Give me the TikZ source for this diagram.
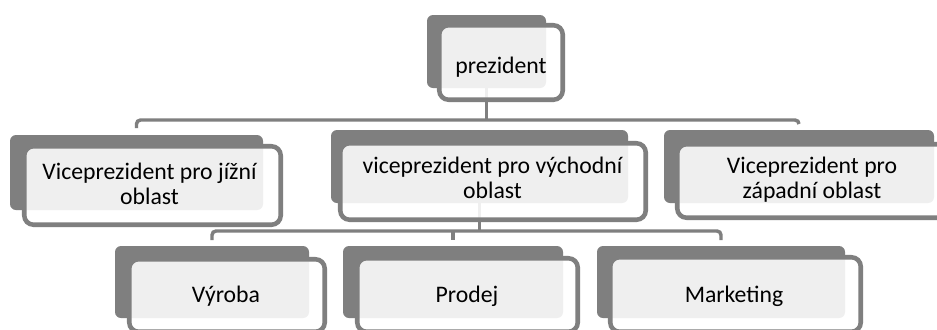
\documentclass[tikz,border=0pt]{standalone}
\usepackage{fontspec}
\setmainfont{Carlito}
\definecolor{boxgray}{RGB}{127,127,127}
\tikzset{
  back/.style={fill=boxgray, rounded corners=4.5pt, inner sep=0pt, outer sep=0pt},
  front/.style={draw=boxgray, line width=3.4pt, fill=white, fill opacity=0.88,
    rounded corners=7pt, inner sep=0pt, outer sep=0pt},
  conn/.style={draw=boxgray, line width=2.6pt, rounded corners=3pt},
  lbl/.style={font=\fontsize{17.8}{18.75}\selectfont, align=center,
    inner sep=0pt, anchor=base, text=black}
}
% shaded back plate: name, x1, y1, x2, y2 (pixel-like units)
\newcommand\backbox[5]{%
  \node[back, minimum width={(#4-#2)*0.75pt}, minimum height={(#5-#3)*0.75pt}]
    (#1) at ({(#2+#4)/2},{(#3+#5)/2}) {};}
% framed front card: name, outer x1, y1, x2, y2
\newcommand\frontbox[5]{%
  \node[front, minimum width={(#4-#2-4.5)*0.75pt}, minimum height={(#5-#3-4.5)*0.75pt}]
    (#1) at ({(#2+#4)/2},{(#3+#5)/2}) {};}
\begin{document}
\begin{tikzpicture}[x=0.75pt,y=-0.75pt]
  \useasboundingbox (0,0) rectangle (937,329);
  \fill[white] (0,0) rectangle (937,329);
  \clip (0,0) rectangle (937,329);

  % back plates
  \backbox{pres-back}{427}{15}{546}{88}
  \backbox{lvp-back}{10}{135}{263}{210}
  \backbox{mvp-back}{331}{130}{628}{203}
  \backbox{rvp-back}{664}{130}{934}{203}
  \backbox{vyr-back}{115}{246}{309}{318}
  \backbox{prod-back}{343}{246}{563}{318}
  \backbox{mkt-back}{597}{246}{845}{318}

  % connectors
  \coordinate (bus1) at (486.5,120);
  \coordinate (bus2) at (479.5,231);
  \draw[conn] (pres-back.south) -- (bus1);
  \draw[conn] ([yshift=5.25pt]lvp-back.north) |- (bus1) -| ([yshift=4.5pt]rvp-back.north);
  \draw[conn] (mvp-back.south) -- (bus2);
  \draw[conn] ([yshift=4.5pt]vyr-back.north) |- (bus2) -| ([yshift=4.5pt]mkt-back.north);
  \draw[conn] (prod-back.north |- bus2) -- ([yshift=4.5pt]prod-back.north);

  % front cards
  \frontbox{pres}{437}{23}{565}{102}
  \frontbox{lvp}{22}{144}{283}{227}
  \frontbox{mvp}{338}{141}{648}{222}
  \frontbox{rvp}{675}{142}{950}{220}
  \frontbox{vyr}{127}{257}{327}{334}
  \frontbox{prod}{355}{256}{580}{334}
  \frontbox{mkt}{608}{255}{863}{334}

  % labels (base = baseline of the last line)
  \node[lbl] (pres-text) at (501,73) {prezident};
  \node[lbl] (lvp-text) at (149.5,204) {Viceprezident pro jížní\\oblast};
  \node[lbl] (mvp-text) at (492.5,198) {viceprezident pro východní\\oblast};
  \node[lbl] (rvp-text) at (812,198) {Viceprezident pro\\západní oblast};
  \node[lbl] (vyr-text) at (226,302) {Výroba};
  \node[lbl] (prod-text) at (467,302) {Prodej};
  \node[lbl] (mkt-text) at (734,302) {Marketing};
\end{tikzpicture}
\end{document}
